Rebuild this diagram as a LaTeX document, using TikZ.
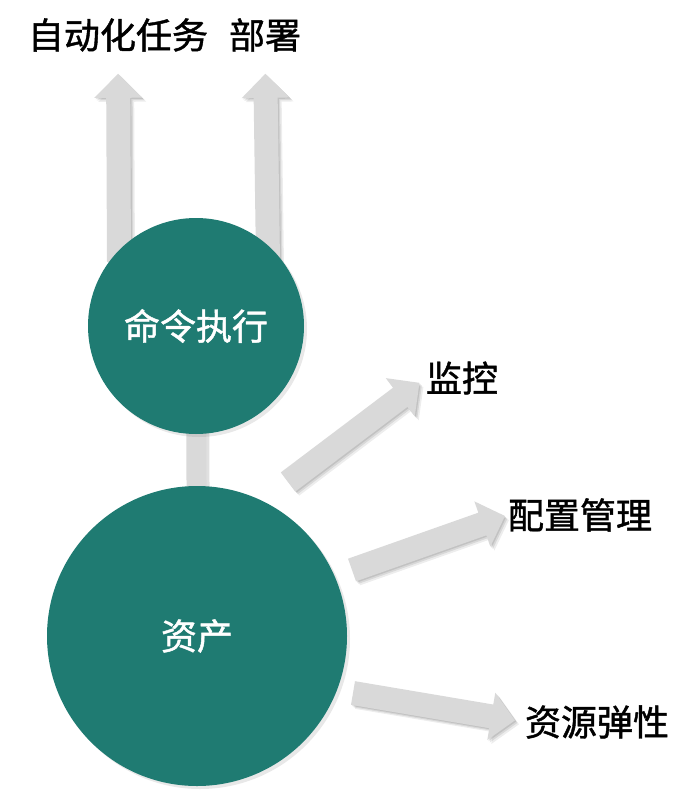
\documentclass[tikz,border=0pt]{standalone}
\usepackage{fontspec}
\setmainfont{Noto Sans CJK SC}[FakeBold=1.2]
\usepackage{xcolor}
\usepackage{tikz}
\usetikzlibrary{positioning,calc,shadows}

\definecolor{tealfill}{HTML}{1F7B72}
\definecolor{arrowgray}{HTML}{D9D9D9}

% block arrow from tail #1 to tip #2
\newcommand{\blockarrow}[2]{%
    \coordinate (ba-h) at ($(#2)!24pt!(#1)$);
    \foreach \s/\o in {4/0.07,2.5/0.09,1.2/0.1}{
        \fill[black,opacity=\o,transform canvas={shift={(\s pt,-\s pt)}}]
            ($(#1)!12pt!90:(#2)$) -- ($(ba-h)!12pt!90:(#2)$) -- ($(ba-h)!24pt!90:(#2)$) -- (#2)
            -- ($(ba-h)!24pt!-90:(#2)$) -- ($(ba-h)!12pt!-90:(#2)$) -- ($(#1)!12pt!-90:(#2)$) -- cycle;
    }
    \fill[arrowgray] ($(#1)!12pt!90:(#2)$) -- ($(ba-h)!12pt!90:(#2)$) -- ($(ba-h)!24pt!90:(#2)$) -- (#2)
        -- ($(ba-h)!24pt!-90:(#2)$) -- ($(ba-h)!12pt!-90:(#2)$) -- ($(#1)!12pt!-90:(#2)$) -- cycle;
}

\begin{document}
\begin{tikzpicture}[x=1pt,y=-1pt,
    bubble/.style={circle, fill=tealfill, text=white, inner sep=0pt,
        font=\fontsize{36}{40}\selectfont,
        drop shadow={shadow xshift=3pt, shadow yshift=-3pt, opacity=0.18}},
    label/.style={inner sep=0pt, font=\fontsize{36}{40}\selectfont}]
    \useasboundingbox (0,0) rectangle (695,800);

    \node[label] (auto) at (118,35) {自动化任务};
    \node[label] (deploy) at (265,35) {部署};
    \node[label] (mon) at (462,378) {监控};
    \node[label] (cfg) at (580,515) {配置管理};
    \node[label] (elastic) at (597,722) {资源弹性};

    \coordinate (autoTail) at ($(auto.south)+(1,210)$);
    \coordinate (deployTail) at ($(deploy.south)+(3,210)$);
    \coordinate (monTail) at (288,482);
    \coordinate (cfgTail) at (352,570);
    \coordinate (elasticTail) at (353,693);

    \blockarrow{autoTail}{$(auto.south)!22pt!(autoTail)$}
    \blockarrow{deployTail}{$(deploy.south)!22pt!(deployTail)$}
    \blockarrow{monTail}{$(mon.west)!8pt!(monTail)$}
    \blockarrow{cfgTail}{$(cfg.west)!3pt!(cfgTail)$}
    \blockarrow{elasticTail}{$(elastic.west)!10pt!(elasticTail)$}

    \coordinate (cmdC) at (196,326);
    \coordinate (assetC) at (197,636);
    \draw[black, opacity=0.12, line width=20pt, transform canvas={shift={(3pt,-2pt)}}] (cmdC) -- (assetC);
    \draw[arrowgray, line width=20pt] (cmdC) -- (assetC);

    \node[bubble, minimum size=216pt] (cmd) at (cmdC) {命令执行};
    \node[bubble, minimum size=300pt] (asset) at (assetC) {资产};
\end{tikzpicture}
\end{document}
